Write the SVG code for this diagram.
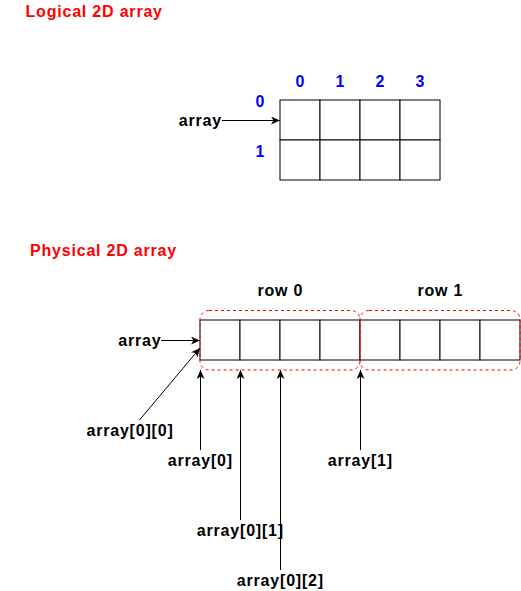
<svg xmlns="http://www.w3.org/2000/svg" width="521" height="591" viewBox="0 0 521 591">
<style>
.t{font-family:"Liberation Sans",Arial,sans-serif;font-weight:bold;font-size:16px;letter-spacing:0.8px}
.title{fill:#FF0000}
.idx{fill:#0000FF;text-anchor:middle}
.lbl{fill:#000;text-anchor:middle}
.cell{fill:#fff;stroke:#000;stroke-width:1}
.grp{fill:none;stroke:#FF0000;stroke-width:1;stroke-dasharray:3 3}
.con{stroke:#000;stroke-width:1;fill:none;marker-end:url(#ah)}
</style>
<defs>
<marker id="ah" viewBox="0 0 10 8" refX="9" refY="4" markerWidth="10" markerHeight="8" markerUnits="userSpaceOnUse" orient="auto">
<path d="M0,0 L9,4 L0,8 L2.5,4 z" fill="#000"/>
</marker>
</defs>
<rect width="521" height="591" fill="#fff"/>
<g id="title-logical"><text class="t title" x="25.5" y="17">Logical 2D array</text></g>
<g id="title-physical"><text class="t title" x="30" y="256">Physical 2D array</text></g>

<g id="logical-grid">
<rect class="cell" x="280" y="100" width="40" height="40"/>
<rect class="cell" x="320" y="100" width="40" height="40"/>
<rect class="cell" x="360" y="100" width="40" height="40"/>
<rect class="cell" x="400" y="100" width="40" height="40"/>
<rect class="cell" x="280" y="140" width="40" height="40"/>
<rect class="cell" x="320" y="140" width="40" height="40"/>
<rect class="cell" x="360" y="140" width="40" height="40"/>
<rect class="cell" x="400" y="140" width="40" height="40"/>
</g>
<g id="logical-indices">
<text class="t idx" x="300.4" y="87">0</text>
<text class="t idx" x="340.4" y="87">1</text>
<text class="t idx" x="380.4" y="87">2</text>
<text class="t idx" x="420.4" y="87">3</text>
<text class="t idx" x="260.4" y="107">0</text>
<text class="t idx" x="260.4" y="157">1</text>
</g>
<g id="logical-array-label"><text class="t lbl" x="200.4" y="126">array</text></g>

<g id="physical-row">
<rect class="cell" x="200" y="320" width="40" height="40"/>
<rect class="cell" x="240" y="320" width="40" height="40"/>
<rect class="cell" x="280" y="320" width="40" height="40"/>
<rect class="cell" x="320" y="320" width="40" height="40"/>
<rect class="cell" x="360" y="320" width="40" height="40"/>
<rect class="cell" x="400" y="320" width="40" height="40"/>
<rect class="cell" x="440" y="320" width="40" height="40"/>
<rect class="cell" x="480" y="320" width="40" height="40"/>
</g>
<g id="row0-group">
<rect class="grp" x="200" y="310.5" width="160" height="59.5" rx="9" ry="9"/>
<text class="t lbl" x="280.4" y="296">row 0</text>
</g>
<g id="row1-group">
<rect class="grp" x="360" y="310.5" width="160" height="59.5" rx="9" ry="9"/>
<text class="t lbl" x="440.4" y="296">row 1</text>
</g>
<g id="physical-labels">
<text class="t lbl" x="139.8" y="346">array</text>
<text class="t lbl" x="130" y="436">array[0][0]</text>
<text class="t lbl" x="200.4" y="466">array[0]</text>
<text class="t lbl" x="240.4" y="536">array[0][1]</text>
<text class="t lbl" x="280.4" y="586">array[0][2]</text>
<text class="t lbl" x="360.4" y="466">array[1]</text>
</g>
<g id="connectors">
<line class="con" x1="222" y1="120.5" x2="280" y2="120.5"/>
<line class="con" x1="161" y1="340.5" x2="200" y2="340.5"/>
<line class="con" x1="139.5" y1="420" x2="200" y2="348"/>
<line class="con" x1="200.5" y1="450" x2="200.5" y2="370"/>
<line class="con" x1="240.5" y1="520" x2="240.5" y2="370"/>
<line class="con" x1="280.5" y1="570" x2="280.5" y2="370"/>
<line class="con" x1="360.5" y1="450" x2="360.5" y2="370"/>
</g>
</svg>
